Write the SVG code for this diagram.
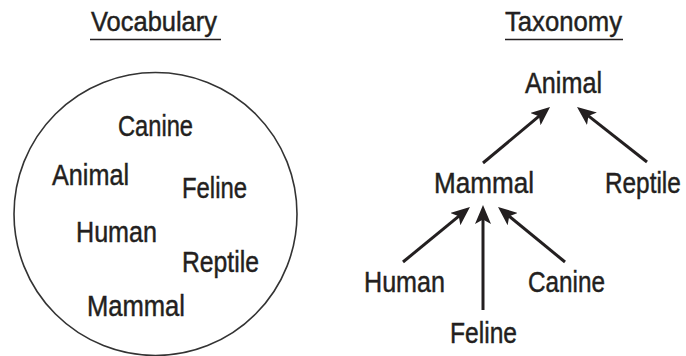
<svg xmlns="http://www.w3.org/2000/svg" width="686" height="356" viewBox="0 0 686 356">
  <style>
    text { font-family: "Liberation Sans", Arial, sans-serif; fill: #231f20; stroke: #231f20; stroke-width: 0.45; }
    .title { font-size: 27px; }
    .term { font-size: 29px; }
    .rule { stroke: #231f20; stroke-width: 1.6; }
    .ring { fill: none; stroke: #333; stroke-width: 1.6; }
    .edge { stroke: #231f20; stroke-width: 3; fill: none; marker-end: url(#head); }
  </style>
  <defs>
    <marker id="head" markerUnits="userSpaceOnUse" viewBox="0 0 19 16" markerWidth="19" markerHeight="16" refX="11" refY="8" orient="auto">
      <path d="M0,0 L19,8 L0,16 L4.5,8 Z" fill="#231f20"/>
    </marker>
  </defs>
  <rect width="686" height="356" fill="#fff"/>

  <!-- Vocabulary: an unordered bag of terms -->
  <g id="vocabulary">
    <text class="title" x="91" y="31" textLength="126" lengthAdjust="spacingAndGlyphs">Vocabulary</text>
    <line class="rule" x1="90" y1="39.5" x2="221" y2="39.5"/>
    <circle class="ring" cx="155.5" cy="214" r="141.5"/>
    <text class="term" x="118" y="136" textLength="75" lengthAdjust="spacingAndGlyphs">Canine</text>
    <text class="term" x="52" y="185" textLength="77" lengthAdjust="spacingAndGlyphs">Animal</text>
    <text class="term" x="182" y="198" textLength="65" lengthAdjust="spacingAndGlyphs">Feline</text>
    <text class="term" x="76" y="242" textLength="81" lengthAdjust="spacingAndGlyphs">Human</text>
    <text class="term" x="182" y="272" textLength="77" lengthAdjust="spacingAndGlyphs">Reptile</text>
    <text class="term" x="87" y="316" textLength="98" lengthAdjust="spacingAndGlyphs">Mammal</text>
  </g>

  <!-- Taxonomy: the same terms arranged as a hierarchy -->
  <g id="taxonomy-title">
    <text class="title" x="505" y="31" textLength="117" lengthAdjust="spacingAndGlyphs">Taxonomy</text>
    <line class="rule" x1="505" y1="39.5" x2="623" y2="39.5"/>
  </g>
  <g id="animal"><text class="term" x="525" y="93" textLength="77" lengthAdjust="spacingAndGlyphs">Animal</text></g>
  <g id="mammal"><text class="term" x="434" y="193" textLength="100" lengthAdjust="spacingAndGlyphs">Mammal</text></g>
  <g id="reptile"><text class="term" transform="translate(605 193) scale(0.84 1)">Reptile</text></g>
  <g id="human"><text class="term" x="364" y="292" textLength="81" lengthAdjust="spacingAndGlyphs">Human</text></g>
  <g id="canine"><text class="term" x="528" y="292" textLength="77" lengthAdjust="spacingAndGlyphs">Canine</text></g>
  <g id="feline"><text class="term" x="450" y="343" textLength="67" lengthAdjust="spacingAndGlyphs">Feline</text></g>

  <g id="connectors">
    <line class="edge" x1="483" y1="163" x2="543.9" y2="112.1"/>
    <line class="edge" x1="647" y1="162" x2="583.3" y2="111.9"/>
    <line class="edge" x1="403" y1="262" x2="463.8" y2="212.1"/>
    <line class="edge" x1="483" y1="310" x2="483" y2="213"/>
    <line class="edge" x1="565" y1="262" x2="504.2" y2="212.1"/>
  </g>
</svg>
